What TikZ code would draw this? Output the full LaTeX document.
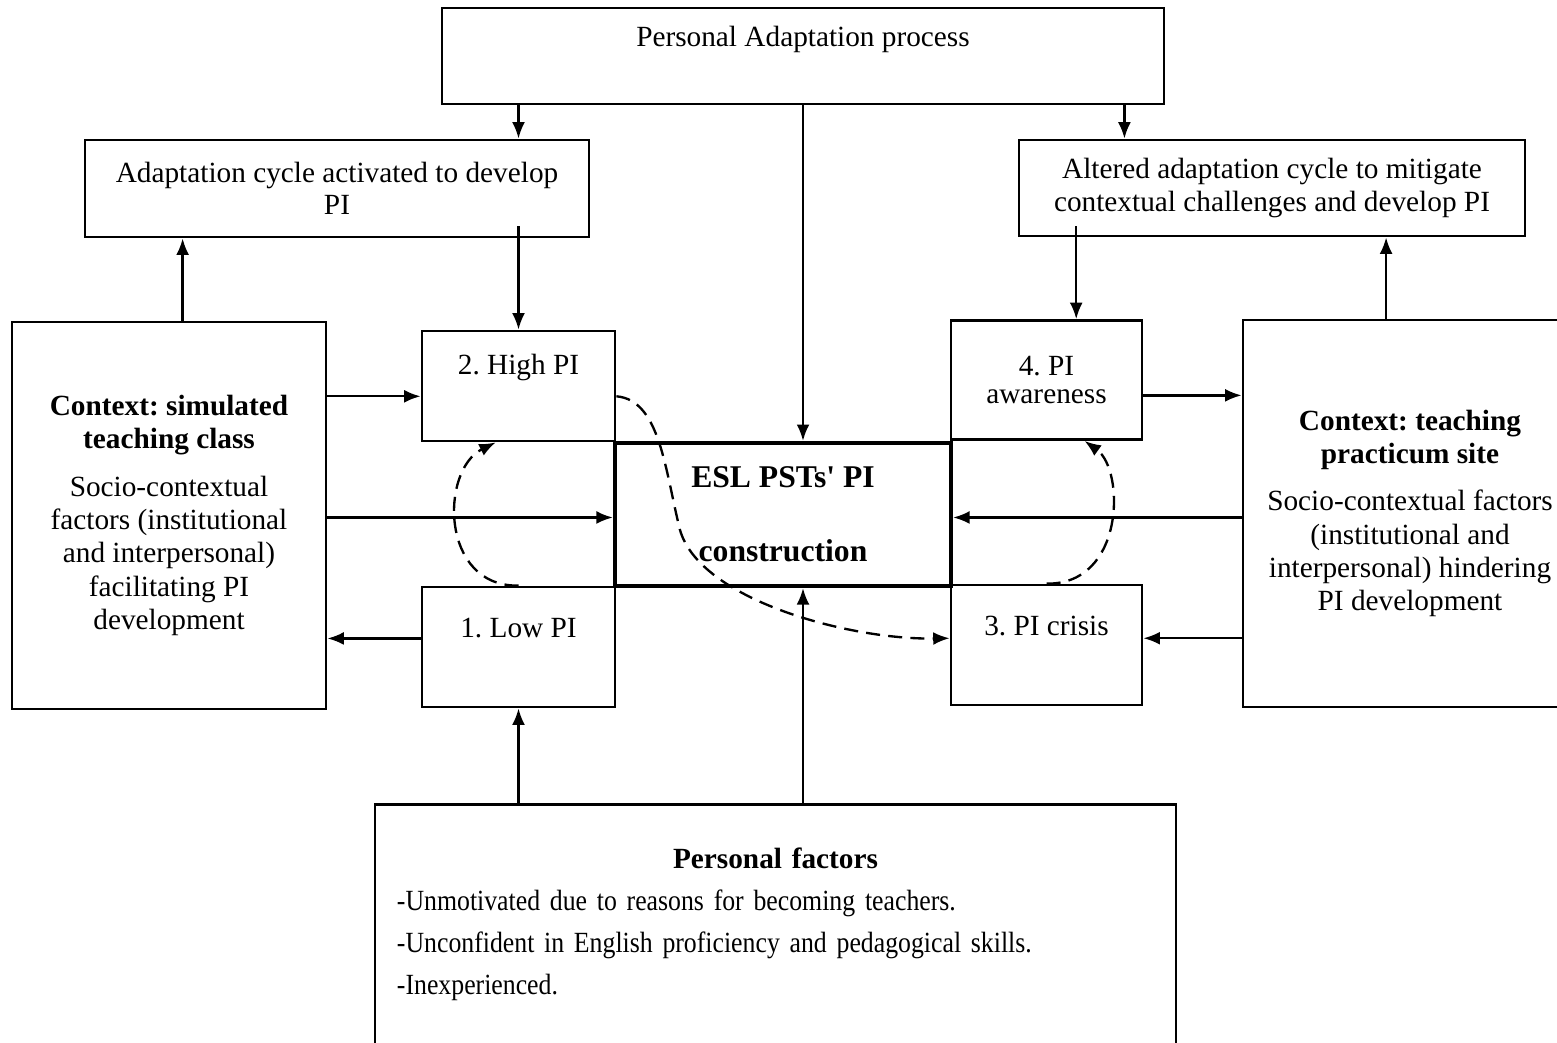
\documentclass[tikz,border=0pt]{standalone}
\usepackage{fontspec}
\setmainfont{Liberation Serif}
\newfontfamily\narrowserif[FakeStretch=0.88]{Liberation Serif}
\frenchspacing
\usetikzlibrary{arrows.meta,calc}
\tikzset{
    box/.style = {
        draw,
        shape=rectangle,
        line width=1.2pt,
        align=center,
        font=\fontsize{12.5}{13.7}\selectfont
    },
    core/.style = {
        box,
        line width=1.8pt,
        font=\fontsize{13.5}{15}\selectfont\bfseries
    },
    cyc/.style = {
        draw,
        dash pattern=on 6pt off 3.5pt,
        ->
    },
    >={Latex[length=7pt,width=5.5pt]},
}

\begin{document}
\begin{tikzpicture}[x=0.015cm, y=-0.015cm, line width=1pt]
    \useasboundingbox (0,0) rectangle (1557,1042);
    \clip (0,0) rectangle (1557,1042);

    \node[box, minimum width=10.83cm, minimum height=1.44cm, text height=9pt, text depth=16.7pt] (proc) at (803,56) {Personal Adaptation process};
    \node[box, minimum width=7.56cm, minimum height=1.455cm] (adleft) at (337,188.5) {Adaptation cycle activated to develop\\PI};
    \node[box, minimum width=7.59cm, minimum height=1.44cm] (adright) at (1272,188) {Altered adaptation cycle to mitigate\\contextual challenges and develop PI};
    \node[box, minimum width=4.71cm, minimum height=5.805cm, font=\fontsize{12.5}{14.2}\selectfont] (ctxleft) at (169,515.5) {\textbf{Context: simulated}\\\textbf{teaching class}\\[6pt]Socio-contextual\\factors (institutional\\and interpersonal)\\facilitating PI\\development};
    \node[box, minimum width=5.01cm, minimum height=5.805cm, font=\fontsize{12.5}{14.2}\selectfont] (ctxright) at (1410,513.5) {\textbf{Context: teaching}\\\textbf{practicum site}\\[6pt]Socio-contextual factors\\(institutional and\\interpersonal) hindering\\PI development};
    \node[box, minimum width=2.895cm, minimum height=1.65cm, text height=9pt, text depth=19.2pt] (high) at (518.5,386) {2. High PI};
    \node[box, minimum width=2.895cm, minimum height=1.8cm, text height=9pt, text depth=16.7pt] (low) at (518.5,647) {1. Low PI};
    \node[box, minimum width=2.865cm, minimum height=1.785cm] (aware) at (1046.5,380) {4. PI\\[-2pt]awareness};
    \node[box, minimum width=2.865cm, minimum height=1.8cm, text height=9pt, text depth=17.5pt] (crisis) at (1046.5,645) {3. PI crisis};
    \node[core, minimum width=5.04cm, minimum height=2.145cm] (esl) at (783,514.5) {ESL PSTs\textquotesingle{} PI\\[16.6pt]construction};
    \node[box, anchor=north, text width=11.355cm, inner xsep=9.4pt, inner ysep=18.35pt, align=left, font=\fontsize{12.5}{18}\selectfont] (pers) at (775.5,803) {\setlength{\parindent}{0pt}{\centering\bfseries Personal factors\par}\narrowserif
        -Unmotivated due to reasons for becoming teachers.\par
        -Unconfident in English proficiency and pedagogical skills.\par
        -Inexperienced.\par
        \rule{0pt}{40pt}};

    \coordinate (procr) at ($(proc.south east)+(-41,0)$);

    % adaptation process
    \path[draw, ->] (proc.south -| high.north) -- (adleft.north -| high.north);
    \path[draw, ->] (procr) -- (procr |- adright.north);
    \path[draw, ->] (proc.south) -- (proc.south |- esl.north);
    \path[draw, ->] (ctxleft.86) -- (ctxleft.86 |- adleft.south);
    \path[draw, ->] ($(high.north |- adleft.south)+(0,-12)$) -- (high.north);
    \path[draw, ->] ($(aware.64 |- adright.south)+(0,-11)$) -- (aware.64);
    \path[draw, ->] (ctxright.97) -- (ctxright.97 |- adright.south);

    % contexts
    \path[draw, ->] (ctxleft.east |- high.186) -- (high.186);
    \path[draw, ->] (ctxleft.east |- esl.181) -- (esl.181);
    \path[draw, ->] (low.175) -- (low.175 -| ctxleft.east);
    \path[draw, ->] (aware.351) -- (aware.351 -| ctxright.west);
    \path[draw, ->] (ctxright.west |- esl.359) -- (esl.359);
    \path[draw, ->] (ctxright.west |- crisis.4) -- (crisis.4);

    % personal factors
    \path[draw, ->] (low.south |- pers.north) -- (low.south);
    \path[draw, ->] (proc.south |- pers.north) -- (proc.south |- esl.south);

    % PI cycle
    \path[cyc] (low.north) .. controls (440,587) and (440,470) .. (high.248);
    \path[cyc] (crisis.north) .. controls (1125,585) and (1125,470) .. (aware.302);
    \path[cyc] (high.354) .. controls (660,400) and (665,470) .. (680,530)
        .. controls (700,600) and (850,640) .. (crisis.176);
\end{tikzpicture}
\end{document}
